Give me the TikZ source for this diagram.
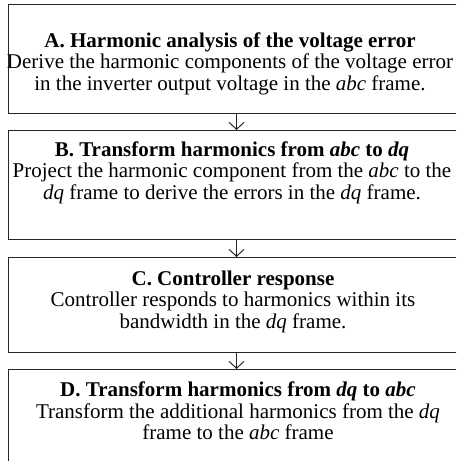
\documentclass[tikz,border=0pt]{standalone}
\usepackage{fontspec}
\setmainfont{Liberation Serif}
\usetikzlibrary{arrows.meta}
\begin{document}
\begin{tikzpicture}[x=1pt,y=-1pt,
  stagebox/.style={draw=black!85,line width=1pt,inner sep=0pt,minimum width=457pt,anchor=north},
  stagetext/.style={align=center,inner sep=0pt,anchor=north,font=\fontsize{21}{21.5}\selectfont},
  flow/.style={draw=black!85,line width=1pt,-{Straight Barb[length=7pt,width=15pt,line width=1pt]}}]
\useasboundingbox (0,0) rectangle (456,461);
\clip (0,0) rectangle (456,461);
\node[stagebox,minimum height=109pt] (A) at (236.5,4) {};
\node[stagebox,minimum height=109pt] (B) at (236.5,130) {};
\node[stagebox,minimum height=95pt] (C) at (236.5,257) {};
\node[stagebox,minimum height=109pt] (D) at (236.5,369) {};
\node[stagetext] (tA) at (230,32.4) {\textbf{A. Harmonic analysis of the voltage error}\\Derive the harmonic components of the voltage error\\in the inverter output voltage in the \textit{abc} frame.};
\node[stagetext] (tB) at (232,141.4) {\textbf{B. Transform harmonics from \textit{abc} to \textit{dq}}\\Project the harmonic component from the \textit{abc} to the\\\textit{dq} frame to derive the errors in the \textit{dq} frame.};
\node[stagetext] (tC) at (233,270.7) {\textbf{C. Controller response}\\Controller responds to harmonics within its\\bandwidth in the \textit{dq} frame.};
\node[stagetext] (tD) at (238,381.7) {\textbf{D. Transform harmonics from \textit{dq} to \textit{abc}}\\Transform the additional harmonics from the \textit{dq}\\frame to the \textit{abc} frame};
\draw[flow] (A.south) -- (B.north);
\draw[flow] (B.south) -- (C.north);
\draw[flow] (C.south) -- (D.north);
\end{tikzpicture}
\end{document}
